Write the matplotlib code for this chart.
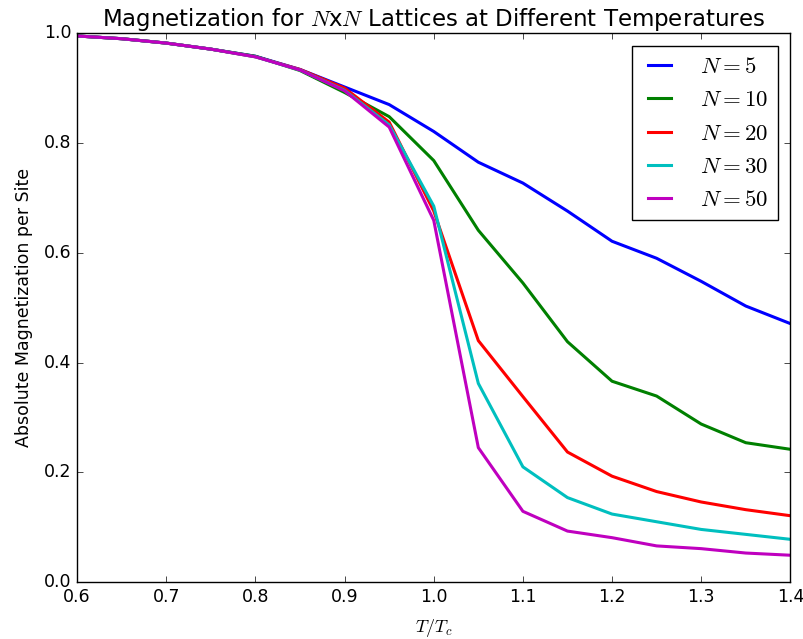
import matplotlib
matplotlib.use("Agg")
import matplotlib.pyplot as plt

plt.style.use('classic')

T = [0.6, 0.65, 0.7, 0.75, 0.8, 0.85, 0.9, 0.95, 1.0, 1.05, 1.1, 1.15, 1.2, 1.25, 1.3, 1.35, 1.4]

m5 = [0.995, 0.990, 0.982, 0.971, 0.958, 0.934, 0.902, 0.870, 0.821, 0.765, 0.727, 0.676, 0.621, 0.590, 0.548, 0.503, 0.471]
m10 = [0.995, 0.990, 0.982, 0.971, 0.958, 0.932, 0.892, 0.848, 0.768, 0.641, 0.545, 0.438, 0.366, 0.339, 0.288, 0.254, 0.242]
m20 = [0.995, 0.990, 0.982, 0.971, 0.957, 0.934, 0.900, 0.838, 0.676, 0.440, 0.338, 0.237, 0.193, 0.165, 0.146, 0.132, 0.121]
m30 = [0.995, 0.990, 0.982, 0.971, 0.957, 0.933, 0.896, 0.833, 0.685, 0.362, 0.210, 0.154, 0.124, 0.110, 0.096, 0.087, 0.078]
m50 = [0.995, 0.990, 0.982, 0.971, 0.957, 0.933, 0.895, 0.829, 0.659, 0.245, 0.129, 0.093, 0.081, 0.066, 0.061, 0.053, 0.049]

series = [("$N=5$", m5, 'b'), ("$N=10$", m10, 'g'), ("$N=20$", m20, 'r'),
          ("$N=30$", m30, 'c'), ("$N=50$", m50, 'm')]

fig = plt.figure(figsize=(8.04, 6.39), dpi=100, facecolor='white')
ax = fig.add_axes([0.096, 0.089, 0.887, 0.859])
for label, vals, c in series:
    ax.plot(T, vals, color=c, lw=2.2, label=label)

ax.set_xlim(0.6, 1.4)
ax.set_ylim(0.0, 1.0)
ax.set_title("Magnetization for $N$x$N$ Lattices at Different Temperatures", fontsize=16.5)
ax.set_xlabel("$T/T_c$", fontsize=13, labelpad=8)
ax.set_ylabel("Absolute Magnetization per Site", fontsize=12.5, labelpad=8)
ax.tick_params(labelsize=12.5)
ax.legend(loc='upper right', fontsize=16.5, handlelength=1.6, handletextpad=1.0,
          labelspacing=0.45, borderaxespad=0.55)

fig.savefig("out.png", dpi=100, facecolor='white')
